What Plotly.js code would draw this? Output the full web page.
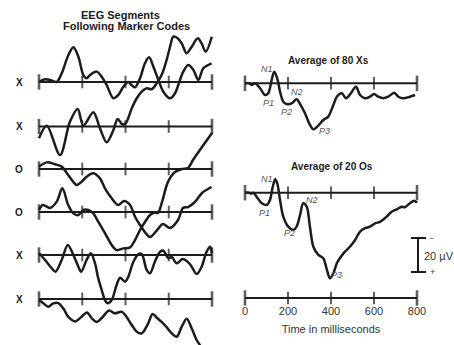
<!DOCTYPE html>
<html><head><meta charset="utf-8">
<script src="https://cdn.plot.ly/plotly-3.0.1.min.js"></script>
<style>html,body{margin:0;padding:0;background:#fff;}#chart{width:454px;height:345px;}</style>
</head><body><div id="chart"></div>
<script>
// ---------- DATA (time in ms, amplitude in µV, negative plotted upward) ----------
const tickTimes = [0, 200, 400, 600, 800];
const tickLabels = ['0', '200', '400', '600', '800'];
const rowLabels = ['X', 'X', 'O', 'O', 'X', 'X'];
const peakNames = ['N1', 'P1', 'N2', 'P2', 'P3'];
const avgTitles = ['Average of 80 Xs', 'Average of 20 Os'];
const scaleSpanUV = 20;

const seg1T = [0,28,51,82,105,136,159,182,205,220,236,267,290,313,344,367,390,413,428,444,467,490,509,529,552,575,606,629,652,667,690,714,737,760,798];
const seg1V = [0,-1.6,-1.2,0,-5.1,-15.9,-20.4,-14.9,-4.1,-2.2,-4.1,-6.1,-3.1,1.8,9.6,7.6,2.8,0,1.8,3.1,-2.2,-11,-14.5,-9,-1.2,5.7,9.6,6.6,-1.2,-6.1,-10,-7.1,-1.2,-8.1,-11];

const seg2T = [0,36,97,143,179,205,251,282,313,344,364,385,401,429,452,475,498,521,544,567,590,606,621,641,660,683,706,734,752,771,799];
const seg2V = [6.9,-0.5,16.8,-2.8,-10.3,-0.5,-8.4,1.1,9.3,2.1,-4.4,-1.3,-1.9,-10.7,-16.6,-20.5,-22.5,-21.9,-25.4,-30.3,-39.1,-46.9,-52.8,-51.9,-48.9,-43.1,-46.9,-51.9,-48.9,-44,-52.8];

const seg3T = [0,36,74,105,135,174,197,220,251,282,305,336,367,394,421,444,467,513,546,573,606,643,666,689,721,754,798];
const seg3V = [-1.4,-3.9,-2.8,-1.4,3.5,9.4,7.5,4.5,2.5,5.5,11.4,17.2,21.2,18.8,21.2,28.1,32.9,40,35.9,32.4,34.7,30,22.9,22.4,19.4,14.1,10.6];

const seg4T = [0,18,51,82,108,135,159,182,205,228,251,274,305,336,359,390,421,444,467,490,513,536,550,569,596,629,661,689,712,744,800];
const seg4V = [-1.2,-4.1,-2.4,-6.1,-13.9,-4.1,0.8,1.8,-1.2,-1.2,0.8,5.7,12.4,19.4,22.4,21.4,20.8,16.5,10.6,5.9,1.8,0.3,0.6,-5.9,-17.6,-23.5,-25.3,-25.9,-30.6,-36.5,-46.5];

const seg5T = [0,28,59,76,105,133,159,182,195,220,240,259,274,290,305,318,336,359,375,398,413,436,459,475,498,513,536,560,575,598,614,637,664,698,729,752,775,791,799];
const seg5V = [-1.2,2.9,7.8,9.8,2.9,-5.9,0,6.9,9.8,2.9,-1,4.9,13.7,20.6,26.5,28.4,26.5,17.6,13.4,15.7,12.8,4.1,-0.4,-0.6,8.8,10.8,3.9,-1.9,-2.5,1.8,1.2,4.9,2.4,5.3,11.2,6.9,-1.9,-4.9,-1];

const seg6T = [0,20,43,66,89,112,135,166,197,222,244,267,290,324,351,382,402,429,452,475,505,525,546,567,590,614,637,660,683,706,729,744,768,800];
const seg6V = [0.6,2.5,4.5,2.6,2.4,5.5,10.4,13.2,10.4,7.9,11.4,13.5,11.2,6.8,8.4,7.5,10,15.3,19.2,20.2,14.3,8.8,11.2,13.5,16.5,20.2,22.2,16.3,11.6,17.2,24.1,27.1,32.9,38.8];

const avgXT = [0,20,31,47,70,93,108,124,136,150,163,178,194,217,240,259,279,302,318,336,364,387,411,427,450,470,492,516,535,558,581,600,620,643,666,694,713,736,767,791];
const avgXV = [0,0,1,0,2.9,6.9,5.9,-1.9,-6.8,-2.9,4.9,10.8,12.2,11.8,9.4,12.8,17.6,24.5,27.1,25.5,21.6,19.6,12.8,7.9,5.9,8.8,5.9,2,6.9,8.8,7.9,6.3,7.9,8.8,7.9,5.5,7.9,8.8,7.9,6.9];

const avgOT = [0,19,28,39,54,78,101,116,129,140,150,163,178,201,225,240,256,271,287,302,318,341,364,380,395,411,427,442,465,488,512,535,558,581,605,628,659,682,706,729,744,767,787,800];
const avgOV = [0,0,0.5,0,2.4,6.2,7.2,4.3,-3.5,-7.9,-5.5,4.3,14.1,20,21.9,20,13.1,6.2,8.2,20,31.8,36.6,38.6,44.9,50.4,47.4,41.5,38.4,34.7,31.8,27.8,22.9,20.9,20,18,17.1,14.1,11.2,9.8,8.2,8.6,6.2,4.7,5.9];

// ---------- LAYOUT GEOMETRY ----------
const W = 454, H = 345;
const INK = '#1c1c1c';
const FONT = 'Liberation Sans, Arial, Helvetica, sans-serif';
const UVPX = 1.7;               // pixels per µV
const PAD = 12;
const leftPx = [39, 212], rightPx = [245, 417];
const rowBase = [82, 126.5, 169, 212, 255, 299];
const avgBase = [83.3, 192.7];
const timeBase = 298;
const px = v => v / W, py = v => 1 - v / H;

function xAxis(p) {
  const s = (p[1] - p[0]) / 800;
  return {domain: [(p[0] - PAD) / W, (p[1] + PAD) / W], range: [-PAD / s, 800 + PAD / s],
          visible: false, fixedrange: true};
}
function yAxis(base, anchor) {
  return {domain: [0, 1], range: [(H - base) / UVPX, -base / UVPX], visible: false, anchor: anchor, fixedrange: true};
}

const segT = [seg1T, seg2T, seg3T, seg4T, seg5T, seg6T];
const segV = [seg1V, seg2V, seg3V, seg4V, seg5V, seg6V];

const layout = {
  width: W, height: H, margin: {l: 0, r: 0, t: 0, b: 0},
  paper_bgcolor: '#fff', plot_bgcolor: 'rgba(0,0,0,0)', showlegend: false,
  font: {family: FONT, color: INK},
  xaxis: Object.assign(xAxis(leftPx), {anchor: 'y'}),
  xaxis2: Object.assign(xAxis(rightPx), {
    visible: true, anchor: 'free', position: py(302.5), showline: false, showgrid: false,
    zeroline: false, ticks: '', tickvals: tickTimes, ticktext: tickLabels,
    tickfont: {family: FONT, size: 11, color: '#333'},
    title: {text: 'Time in milliseconds', font: {family: FONT, size: 11, color: '#333'}, standoff: 9}
  }),
  annotations: [], shapes: []
};

const traces = [];
function addAxisRow(xid, yid) {
  traces.push({x: [tickTimes[0], tickTimes[tickTimes.length - 1]], y: [0, 0], xaxis: xid, yaxis: yid,
    mode: 'lines', line: {color: INK, width: 2}, hoverinfo: 'skip'});
  traces.push({x: tickTimes, y: tickTimes.map(() => 0), xaxis: xid, yaxis: yid, mode: 'markers',
    cliponaxis: false, hoverinfo: 'skip',
    marker: {symbol: 'line-ns', size: [11, 9, 9, 9, 11], color: INK, line: {color: INK, width: [2.6, 2, 2, 2, 2.6]}}});
}
function addWave(t, v, xid, yid) {
  traces.push({x: t, y: v, xaxis: xid, yaxis: yid, mode: 'lines', hoverinfo: 'skip',
    line: {color: INK, width: 2.5, shape: 'spline', smoothing: 0.9}});
}

// left rows
rowBase.forEach((b, i) => {
  const n = i + 1, yid = n === 1 ? 'y' : 'y' + n;
  layout[n === 1 ? 'yaxis' : 'yaxis' + n] = yAxis(b, 'x');
  addAxisRow('x', yid);
  addWave(segT[i], segV[i], 'x', yid);
  layout.annotations.push({xref: 'paper', yref: 'paper', x: px(19), y: py(b + 0.5), text: '<b>' + rowLabels[i] + '</b>',
    showarrow: false, xanchor: 'center', yanchor: 'middle', font: {size: 10, color: INK}});
});

// right averages
const avgT = [avgXT, avgOT], avgV = [avgXV, avgOV];
avgBase.forEach((b, i) => {
  const n = 7 + i;
  layout['yaxis' + n] = yAxis(b, 'x2');
  addAxisRow('x2', 'y' + n);
  addWave(avgT[i], avgV[i], 'x2', 'y' + n);
});
// time axis row
layout.yaxis9 = yAxis(timeBase, 'x2');
addAxisRow('x2', 'y9');

// titles
const titleFont = {size: 11, color: INK};
layout.annotations.push(
  {xref: 'paper', yref: 'paper', x: px(120), y: py(15), text: '<b>EEG Segments</b>', showarrow: false, xanchor: 'center', yanchor: 'middle', font: titleFont},
  {xref: 'paper', yref: 'paper', x: px(126), y: py(26), text: '<b>Following Marker Codes</b>', showarrow: false, xanchor: 'center', yanchor: 'middle', font: titleFont},
  {xref: 'paper', yref: 'paper', x: px(328), y: py(60), text: '<b>' + avgTitles[0] + '</b>', showarrow: false, xanchor: 'center', yanchor: 'middle', font: {size: 10, color: INK}},
  {xref: 'paper', yref: 'paper', x: px(332), y: py(166.5), text: '<b>' + avgTitles[1] + '</b>', showarrow: false, xanchor: 'center', yanchor: 'middle', font: {size: 10, color: INK}}
);

// peak labels (N1, P1, N2, P2, P3)
const peakPosX = [[266.7, 69], [268, 103], [297, 92], [286, 112], [324, 130.5]];
const peakPosO = [[266.7, 179.5], [264, 213], [312, 199.7], [289, 233], [336.7, 275]];
[peakPosX, peakPosO].forEach(pos => pos.forEach((p, k) => {
  layout.annotations.push({xref: 'paper', yref: 'paper', x: px(p[0]), y: py(p[1]), text: '<i>' + peakNames[k] + '</i>',
    showarrow: false, xanchor: 'center', yanchor: 'middle', font: {size: 9, color: '#555'}});
}));

// 20 µV scale bar, on the µV scale of the "20 Os" average
const scaleTop = (238 - avgBase[1]) / UVPX;
layout.shapes.push(
  {type: 'line', xref: 'paper', yref: 'y8', x0: px(418), x1: px(418), y0: scaleTop, y1: scaleTop + scaleSpanUV, line: {color: INK, width: 2}},
  {type: 'line', xref: 'paper', yref: 'y8', x0: px(411), x1: px(426), y0: scaleTop, y1: scaleTop, line: {color: INK, width: 2}},
  {type: 'line', xref: 'paper', yref: 'y8', x0: px(411), x1: px(426), y0: scaleTop + scaleSpanUV, y1: scaleTop + scaleSpanUV, line: {color: INK, width: 2}}
);
layout.annotations.push(
  {xref: 'paper', yref: 'y8', x: px(431), y: scaleTop, text: '−', showarrow: false, xanchor: 'center', yanchor: 'middle', font: {size: 9, color: '#444'}},
  {xref: 'paper', yref: 'y8', x: px(432), y: scaleTop + scaleSpanUV, text: '+', showarrow: false, xanchor: 'center', yanchor: 'middle', font: {size: 9, color: '#444'}},
  {xref: 'paper', yref: 'y8', x: px(439), y: scaleTop + scaleSpanUV / 2 + 0.8, text: scaleSpanUV + ' µV', showarrow: false, xanchor: 'center', yanchor: 'middle', font: {size: 11, color: '#333'}}
);

Plotly.newPlot('chart', traces, layout, {staticPlot: true, displayModeBar: false});
</script>
</body></html>
